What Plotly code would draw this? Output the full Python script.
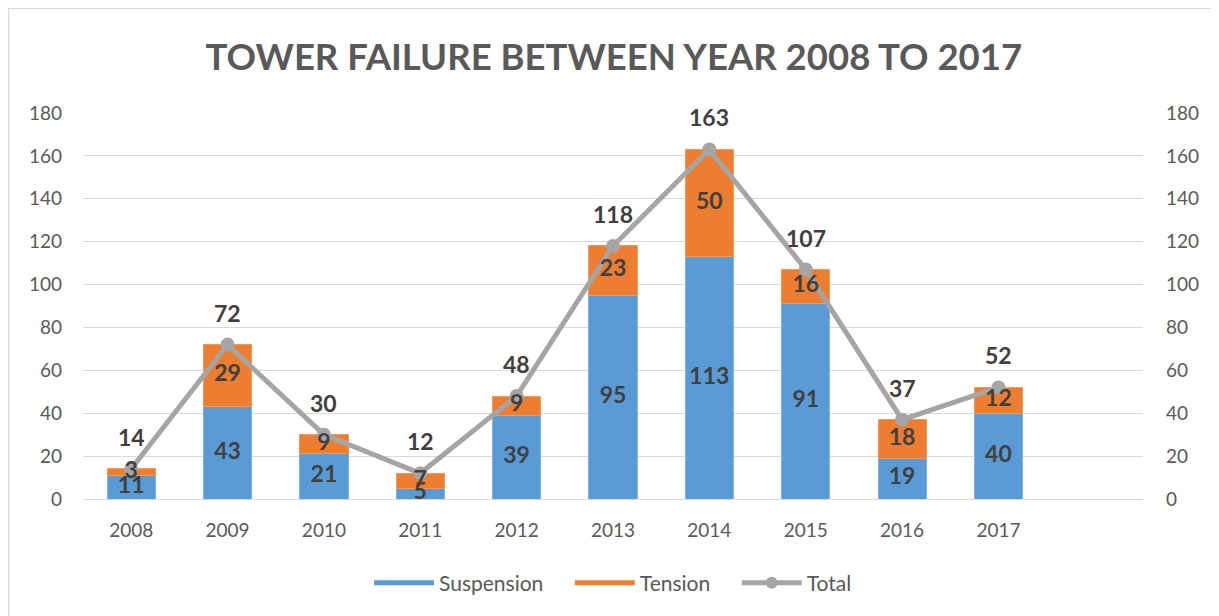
import plotly.graph_objects as go

years = ["2008", "2009", "2010", "2011", "2012", "2013", "2014", "2015", "2016", "2017"]
suspension = [11, 43, 21, 5, 39, 95, 113, 91, 19, 40]
tension = [3, 29, 9, 7, 9, 23, 50, 16, 18, 12]
total = [14, 72, 30, 12, 48, 118, 163, 107, 37, 52]

FONT = "Lato"
label_font = dict(family=FONT, size=23, color="#404040", weight="bold")
blue = "#5B9BD5"
orange = "#ED7D31"
grey = "#A5A5A5"
pad = "\u00a0" * 4  # extra room between legend entries

fig = go.Figure()
fig.add_trace(go.Bar(x=years, y=suspension, name="Suspension", marker_color=blue,
                     marker_line=dict(color="#7FB2E0", width=1), showlegend=False))
fig.add_trace(go.Bar(x=years, y=tension, name="Tension", marker_color=orange,
                     marker_line=dict(color="#F29A5C", width=1), showlegend=False))

# legend entries with wide swatches like the original
fig.add_trace(go.Scatter(x=[None], y=[None], mode="lines", name="Suspension" + pad,
                         line=dict(color=blue, width=11)))
fig.add_trace(go.Scatter(x=[None], y=[None], mode="lines", name="Tension" + pad,
                         line=dict(color=orange, width=11)))

fig.add_trace(go.Scatter(x=years, y=total, name="Total", mode="lines+markers", yaxis="y2",
                         line=dict(color=grey, width=5),
                         marker=dict(color=grey, size=14)))

# labels centred in each stacked segment (drawn on y2 so they sit above the line)
fig.add_trace(go.Scatter(x=years, y=[s / 2 for s in suspension], mode="text", yaxis="y2",
                         text=[str(s) for s in suspension], textfont=label_font,
                         showlegend=False, hoverinfo="skip"))
fig.add_trace(go.Scatter(x=years, y=[s + t / 2 for s, t in zip(suspension, tension)],
                         mode="text", yaxis="y2",
                         text=[str(t) for t in tension], textfont=label_font,
                         showlegend=False, hoverinfo="skip"))

for i, tv in enumerate(total):
    fig.add_annotation(x=i, y=tv, xref="x", yref="y2", text=str(tv), showarrow=False,
                       yshift=32, font=label_font)

# chart frame (left and top edges visible)
fig.add_shape(type="rect", xref="paper", yref="paper",
              x0=-0.0705, x1=1.2, y0=-0.5, y1=1.272,
              line=dict(color="#D9D9D9", width=2), fillcolor="rgba(0,0,0,0)", layer="below")

tick_font = dict(family=FONT, size=19, color="#595959")

fig.update_layout(
    width=1219, height=616,
    margin=dict(l=75, r=84, t=105, b=125),
    barmode="stack", bargap=0.5,
    plot_bgcolor="white", paper_bgcolor="white",
    title=dict(text="<b>TOWER FAILURE BETWEEN YEAR 2008 TO 2017</b>", x=0.497, xanchor="center",
               y=0.920, yanchor="middle", font=dict(family=FONT, size=36.5, color="#595959")),
    xaxis=dict(type="category", categoryorder="array", categoryarray=years,
               range=[-0.5, 10.5], tickfont=tick_font, showgrid=False,
               showline=True, linecolor="#D9D9D9", linewidth=1, ticklabelstandoff=14),
    yaxis=dict(range=[0, 180], dtick=20, tickfont=tick_font, gridcolor="#D9D9D9",
               zeroline=False, ticklabelstandoff=20),
    yaxis2=dict(range=[0, 180], dtick=20, tickfont=tick_font, overlaying="y", side="right",
                showgrid=False, zeroline=False, ticklabelstandoff=22),
    legend=dict(orientation="h", x=0.5, xanchor="center", y=-0.218, yanchor="middle",
                font=dict(family=FONT, size=21, color="#595959"), itemwidth=60,
                traceorder="normal", itemsizing="constant"),
)

fig.write_html("out.html")
